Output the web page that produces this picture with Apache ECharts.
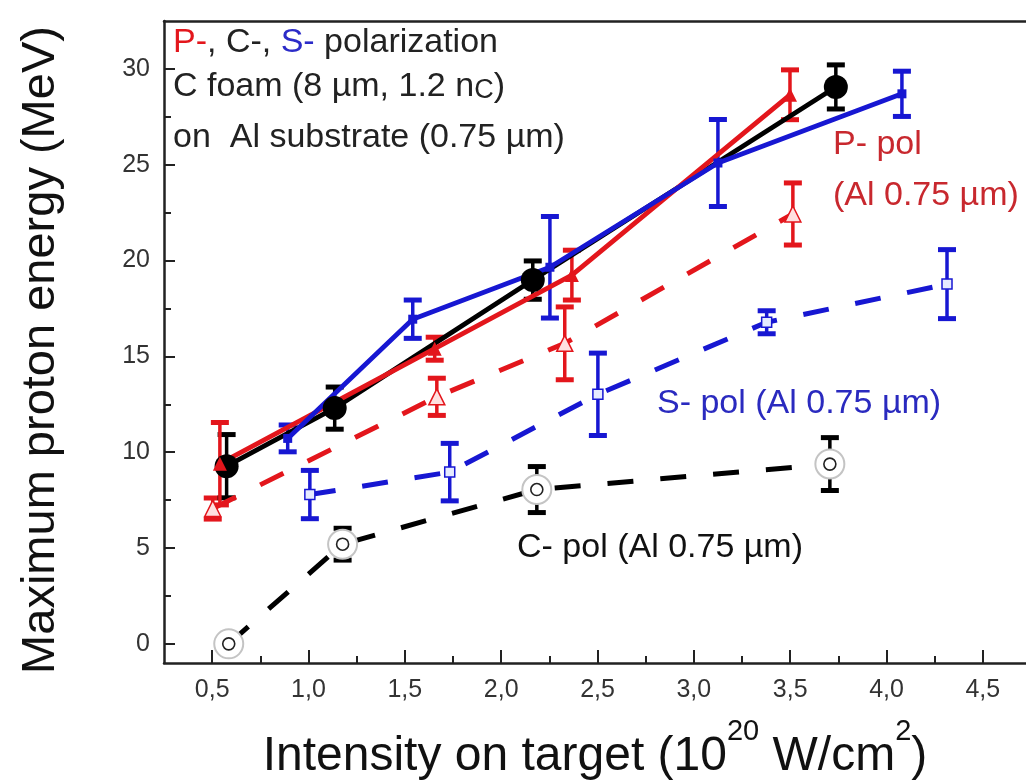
<!DOCTYPE html>
<html><head><meta charset="utf-8">
<script src="https://cdn.jsdelivr.net/npm/echarts@6/dist/echarts.min.js"></script>
<style>html,body{margin:0;padding:0;background:#fff}#c{width:1026px;height:783px}</style>
</head><body><div id="c"></div>
<script>
// ---- tick values ----
const xMajorTicks = [0.5, 1.0, 1.5, 2.0, 2.5, 3.0, 3.5, 4.0, 4.5];
const xMinorTicks = [0.75, 1.25, 1.75, 2.25, 2.75, 3.25, 3.75, 4.25];
const yMajorTicks = [0, 5, 10, 15, 20, 25, 30];
const yMinorTicks = [2.5, 7.5, 12.5, 17.5, 22.5, 27.5];

// ---- data: C foam on Al substrate (solid lines) ----
const pSolidX = [0.54, 1.655, 2.367, 3.499];
const pSolidY = [9.4, 15.4, 19.24, 28.65];
const pSolidErr = [2.15, 0.6, 1.3, 1.3];

const cSolidX = [0.575, 1.136, 2.164, 3.737];
const cSolidY = [9.27, 12.3, 18.98, 29.06];
const cSolidErr = [1.65, 1.1, 1.0, 1.15];

const sSolidX = [0.892, 1.541, 2.253, 3.125, 4.08];
const sSolidY = [10.72, 16.94, 19.65, 25.09, 28.7];
const sSolidErr = [0.7, 1.0, 2.65, 2.27, 1.18];

// ---- data: Al 0.75 um only (dashed lines) ----
const pDashX = [0.503, 1.666, 2.33, 3.514];
const pDashY = [7.06, 12.89, 15.68, 22.43];
const pDashErr = [0.55, 0.97, 1.9, 1.62];

const sDashX = [1.007, 1.733, 2.502, 3.378, 4.314];
const sDashY = [7.79, 8.96, 13.02, 16.78, 18.77];
const sDashErr = [1.26, 1.5, 2.15, 0.6, 1.8];

const cDashX = [0.586, 1.177, 2.185, 3.706];
const cDashY = [0.0, 5.2, 8.05, 9.38];
const cDashErr = [0, 0.83, 1.2, 1.38];

const RED = '#e3161c', BLUE = '#1717d2', BLACK = '#000000';
const FONT = '"Liberation Sans", Arial, sans-serif';

function pairs(xs, ys) { return xs.map((x, i) => [x, ys[i]]); }

function errSeries(xs, ys, es, color) {
  return {
    type: 'custom',
    silent: true,
    data: xs.map((x, i) => [x, ys[i], es[i]]),
    encode: { x: 0, y: 1 },
    renderItem: function (params, api) {
      const x = api.value(0), y = api.value(1), e = api.value(2);
      if (!e) return null;
      const t = api.coord([x, y + e]);
      const b = api.coord([x, y - e]);
      const hw = 9;
      return {
        type: 'group',
        children: [
          { type: 'line', shape: { x1: t[0], y1: t[1], x2: b[0], y2: b[1] }, style: { stroke: color, lineWidth: 3.5 } },
          { type: 'line', shape: { x1: t[0] - hw, y1: t[1], x2: t[0] + hw, y2: t[1] }, style: { stroke: color, lineWidth: 5 } },
          { type: 'line', shape: { x1: b[0] - hw, y1: b[1], x2: b[0] + hw, y2: b[1] }, style: { stroke: color, lineWidth: 5 } }
        ]
      };
    }
  };
}

function lineSeries(xs, ys, color, dashed, symbol, size, itemStyle) {
  return {
    type: 'line',
    silent: true,
    data: pairs(xs, ys),
    showSymbol: true,
    symbol: symbol,
    symbolSize: size,
    itemStyle: itemStyle,
    lineStyle: { color: color, width: dashed ? 5 : 4.8, type: dashed ? [26, 27] : 'solid', cap: 'butt' }
  };
}

const series = [
  errSeries(cDashX, cDashY, cDashErr, BLACK),
  lineSeries(cDashX, cDashY, BLACK, true, 'circle', 29, { color: '#ffffff', borderColor: '#c4c4c4', borderWidth: 2, opacity: 1 }),
  { type: 'scatter', silent: true, z: 3, data: pairs(cDashX, cDashY), symbol: 'circle', symbolSize: 12,
    itemStyle: { color: '#ffffff', borderColor: '#222', borderWidth: 1.6, opacity: 1 } },

  errSeries(sDashX, sDashY, sDashErr, BLUE),
  lineSeries(sDashX, sDashY, BLUE, true, 'rect', 10, { color: '#e6ebff', borderColor: BLUE, borderWidth: 1.5, opacity: 1 }),

  errSeries(pDashX, pDashY, pDashErr, RED),
  lineSeries(pDashX, pDashY, RED, true, 'triangle', 16, { color: '#ffe0e0', borderColor: RED, borderWidth: 1.5, opacity: 1 }),

  errSeries(cSolidX, cSolidY, cSolidErr, BLACK),
  lineSeries(cSolidX, cSolidY, BLACK, false, 'circle', 24, { color: BLACK, opacity: 1 }),

  errSeries(pSolidX, pSolidY, pSolidErr, RED),
  lineSeries(pSolidX, pSolidY, RED, false, 'triangle', 14, { color: RED, opacity: 1 }),

  errSeries(sSolidX, sSolidY, sSolidErr, BLUE),
  lineSeries(sSolidX, sSolidY, BLUE, false, 'rect', 9, { color: BLUE, opacity: 1 })
];

// ---- text helpers (measure with canvas so pieces line up) ----
const mctx = document.createElement('canvas').getContext('2d');
function tw(text, size) { mctx.font = size + 'px ' + FONT; return mctx.measureText(text).width; }
// pieces: [text, fontSize, fill, yOffset]
function textRun(x0, y, pieces, centered) {
  let total = 0;
  pieces.forEach(p => { total += tw(p[0], p[1]); });
  let x = centered ? x0 - total / 2 : x0;
  return pieces.map(p => {
    const el = { type: 'text', x: x, y: y + (p[3] || 0), silent: true,
      style: { text: p[0], font: p[1] + 'px ' + FONT, fill: p[2], align: 'left', verticalAlign: 'middle' } };
    x += tw(p[0], p[1]);
    return el;
  });
}

const TXT = '#222', PRED = '#c8282e', SBLUE = '#2a2abf';
const graphics = [].concat(
  [{ type: 'text', x: 41, y: 350, rotation: Math.PI / 2, silent: true,
     style: { text: 'Maximum proton energy (MeV)', font: '47px ' + FONT, fill: '#111', align: 'center', verticalAlign: 'middle' } }],
  textRun(595, 757, [
    ['Intensity on target (10', 48, '#111', 0],
    ['20', 29, '#111', -25],
    [' W/cm', 48, '#111', 0],
    ['2', 29, '#111', -25],
    [')', 48, '#111', 0]
  ], true),
  textRun(173, 43, [
    ['P-', 34, RED, 0], [', C-, ', 34, TXT, 0], ['S-', 34, '#2b2bc8', 0], [' polarization', 34, TXT, 0]
  ], false),
  textRun(173, 87, [
    ['C foam (8 µm, 1.2 n', 34, TXT, 0], ['C', 27, TXT, 4], [')', 34, TXT, 0]
  ], false),
  textRun(173, 137.5, [['on  Al substrate (0.75 µm)', 34, TXT, 0]], false),
  textRun(833, 145, [['P- pol', 34, PRED, 0]], false),
  textRun(833, 196, [['(Al 0.75 µm)', 34, PRED, 0]], false),
  textRun(657, 404, [['S- pol (Al 0.75 µm)', 34, SBLUE, 0]], false),
  textRun(517, 548, [['C- pol (Al 0.75 µm)', 34, '#111', 0]], false)
);

const axisLineStyle = { color: '#222', width: 2.5 };
const fmtX = v => Number(v).toFixed(1).replace('.', ',');
const X_MIN = 0.25, X_MAX = 4.724, Y_MIN = -1, Y_MAX = 32.5;

const option = {
  animation: false,
  backgroundColor: '#ffffff',
  grid: { left: 164, right: 0, top: 21, bottom: 120, containLabel: false },
  xAxis: [
    { type: 'value', min: X_MIN, max: X_MAX, position: 'bottom',
      axisLine: { show: true, onZero: false, lineStyle: axisLineStyle },
      axisTick: { show: true, inside: true, length: 13, customValues: xMajorTicks, lineStyle: { color: '#222', width: 2 } },
      axisLabel: { show: true, customValues: xMajorTicks, formatter: fmtX, margin: 15, fontSize: 25, fontFamily: FONT, color: '#333' },
      splitLine: { show: false } },
    { type: 'value', min: X_MIN, max: X_MAX, position: 'bottom',
      axisLine: { show: false, onZero: false },
      axisTick: { show: true, inside: true, length: 7, customValues: xMinorTicks, lineStyle: { color: '#222', width: 2 } },
      axisLabel: { show: false }, splitLine: { show: false } },
    { type: 'value', min: X_MIN, max: X_MAX, position: 'top',
      axisLine: { show: true, onZero: false, lineStyle: axisLineStyle },
      axisTick: { show: false }, axisLabel: { show: false }, splitLine: { show: false } }
  ],
  yAxis: [
    { type: 'value', min: Y_MIN, max: Y_MAX, position: 'left',
      axisLine: { show: true, onZero: false, lineStyle: axisLineStyle },
      axisTick: { show: true, inside: true, length: 11, customValues: yMajorTicks, lineStyle: { color: '#222', width: 2 } },
      axisLabel: { show: true, customValues: yMajorTicks, margin: 14, fontSize: 25, fontFamily: FONT, color: '#333' },
      splitLine: { show: false } },
    { type: 'value', min: Y_MIN, max: Y_MAX, position: 'left',
      axisLine: { show: false, onZero: false },
      axisTick: { show: true, inside: true, length: 7, customValues: yMinorTicks, lineStyle: { color: '#222', width: 2 } },
      axisLabel: { show: false }, splitLine: { show: false } }
  ],
  series: series,
  graphic: graphics
};

const chart = echarts.init(document.getElementById('c'), null, { renderer: 'canvas' });
chart.setOption(option);
</script>
</body></html>
